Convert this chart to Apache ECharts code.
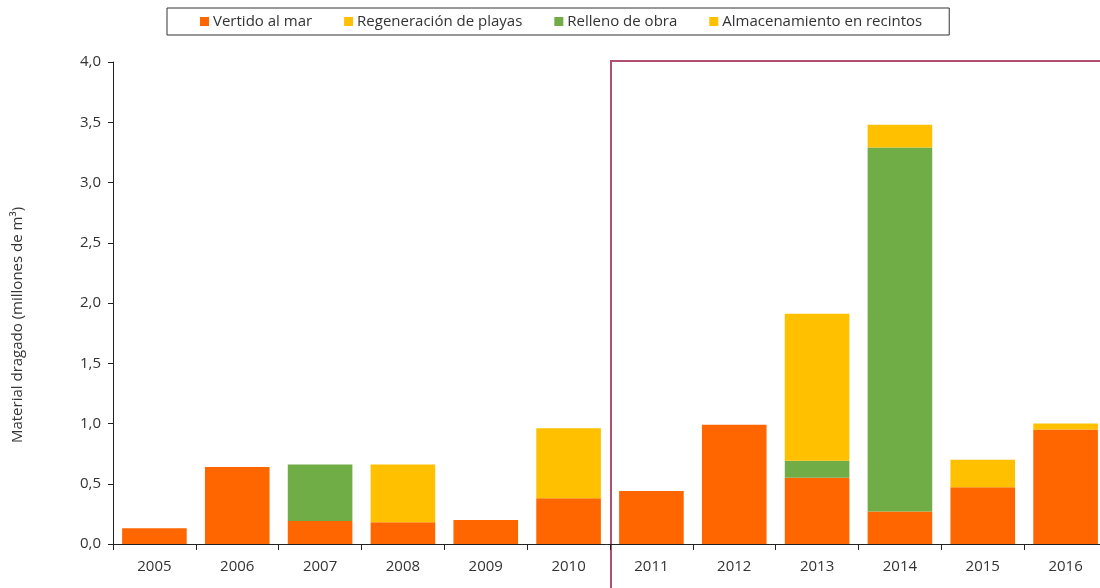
<!DOCTYPE html>
<html>
<head>
<meta charset="utf-8">
<script src="https://cdn.jsdelivr.net/npm/echarts@6/dist/echarts.min.js"></script>
<style>
  html, body { margin: 0; padding: 0; background: #fff; }
  #chart { width: 1100px; height: 588px; }
</style>
</head>
<body>
<div id="chart"></div>
<script>
// datos (millones de m3)
var years = ['2005', '2006', '2007', '2008', '2009', '2010', '2011', '2012', '2013', '2014', '2015', '2016'];
var vertido = [0.13, 0.64, 0.19, 0.18, 0.20, 0.38, 0.44, 0.99, 0.55, 0.27, 0.47, 0.95];
var relleno = [0, 0, 0.47, 0, 0, 0, 0, 0, 0.14, 3.02, 0, 0];
var regeneracion = [0, 0, 0, 0.48, 0, 0.58, 0, 0, 1.22, 0, 0, 0];
var almacenamiento = [0, 0, 0, 0, 0, 0, 0, 0, 0, 0.19, 0.23, 0.05];
var yTicks = [0, 0.5, 1, 1.5, 2, 2.5, 3, 3.5, 4];

var font = 'Open Sans, Liberation Sans, sans-serif';
var myChart = echarts.init(document.getElementById('chart'));

function bar(name, data, color) {
  return {
    name: name,
    type: 'bar',
    stack: 'total',
    data: data,
    barCategoryGap: '22%',
    itemStyle: { color: color },
    emphasis: { disabled: true }
  };
}

myChart.setOption({
  animation: false,
  textStyle: { fontFamily: font },
  legend: {
    data: ['Vertido al mar', 'Regeneración de playas', 'Relleno de obra', 'Almacenamiento en recintos'],
    left: 167,
    top: 8,
    padding: [6, 27, 6, 33],
    itemGap: 32,
    itemWidth: 9,
    itemHeight: 9,
    icon: 'rect',
    borderColor: '#333',
    borderWidth: 1,
    textStyle: { fontSize: 15, color: '#333', fontFamily: font, padding: [0, 0, 0, -1] }
  },
  grid: { left: 113, width: 994, top: 62, bottom: 44, containLabel: false, outerBoundsMode: 'none' },
  xAxis: {
    type: 'category',
    data: years,
    axisLine: { lineStyle: { color: '#222', width: 1 } },
    axisTick: { show: true, length: 6, interval: 0, lineStyle: { color: '#222' } },
    axisLabel: { fontSize: 15, color: '#333', margin: 15, interval: 0 }
  },
  yAxis: {
    type: 'value',
    min: 0,
    max: 4,
    interval: 0.5,
    name: 'Material dragado (millones de m³)',
    nameLocation: 'middle',
    nameGap: 88,
    nameRotate: 90,
    nameTextStyle: { fontSize: 15, color: '#333', padding: [0, 0, 0, -44] },
    axisLine: { show: true, lineStyle: { color: '#222', width: 1 } },
    axisTick: { show: true, length: 5, lineStyle: { color: '#222' } },
    splitLine: { show: false },
    axisLabel: {
      fontSize: 15, color: '#333', margin: 12,
      formatter: function (v) { return v.toFixed(1).replace('.', ','); }
    }
  },
  series: [
    bar('Vertido al mar', vertido, '#FF6600'),
    bar('Relleno de obra', relleno, '#70AD47'),
    bar('Regeneración de playas', regeneracion, '#FFC000'),
    bar('Almacenamiento en recintos', almacenamiento, '#FFC000')
  ]
});

// recuadro del periodo 2011-2016
var xa = myChart.convertToPixel({ xAxisIndex: 0 }, years[5]);
var xb = myChart.convertToPixel({ xAxisIndex: 0 }, years[6]);
var yTop = myChart.convertToPixel({ yAxisIndex: 0 }, yTicks[yTicks.length - 1]);
var xLeft = Math.round((xa + xb) / 2) + 1;
myChart.setOption({
  graphic: [{
    type: 'rect',
    shape: { x: xLeft, y: Math.round(yTop) - 1, width: 1100, height: 700 },
    style: { fill: 'none', stroke: '#B0506E', lineWidth: 2 },
    silent: true
  }]
});
</script>
</body>
</html>
